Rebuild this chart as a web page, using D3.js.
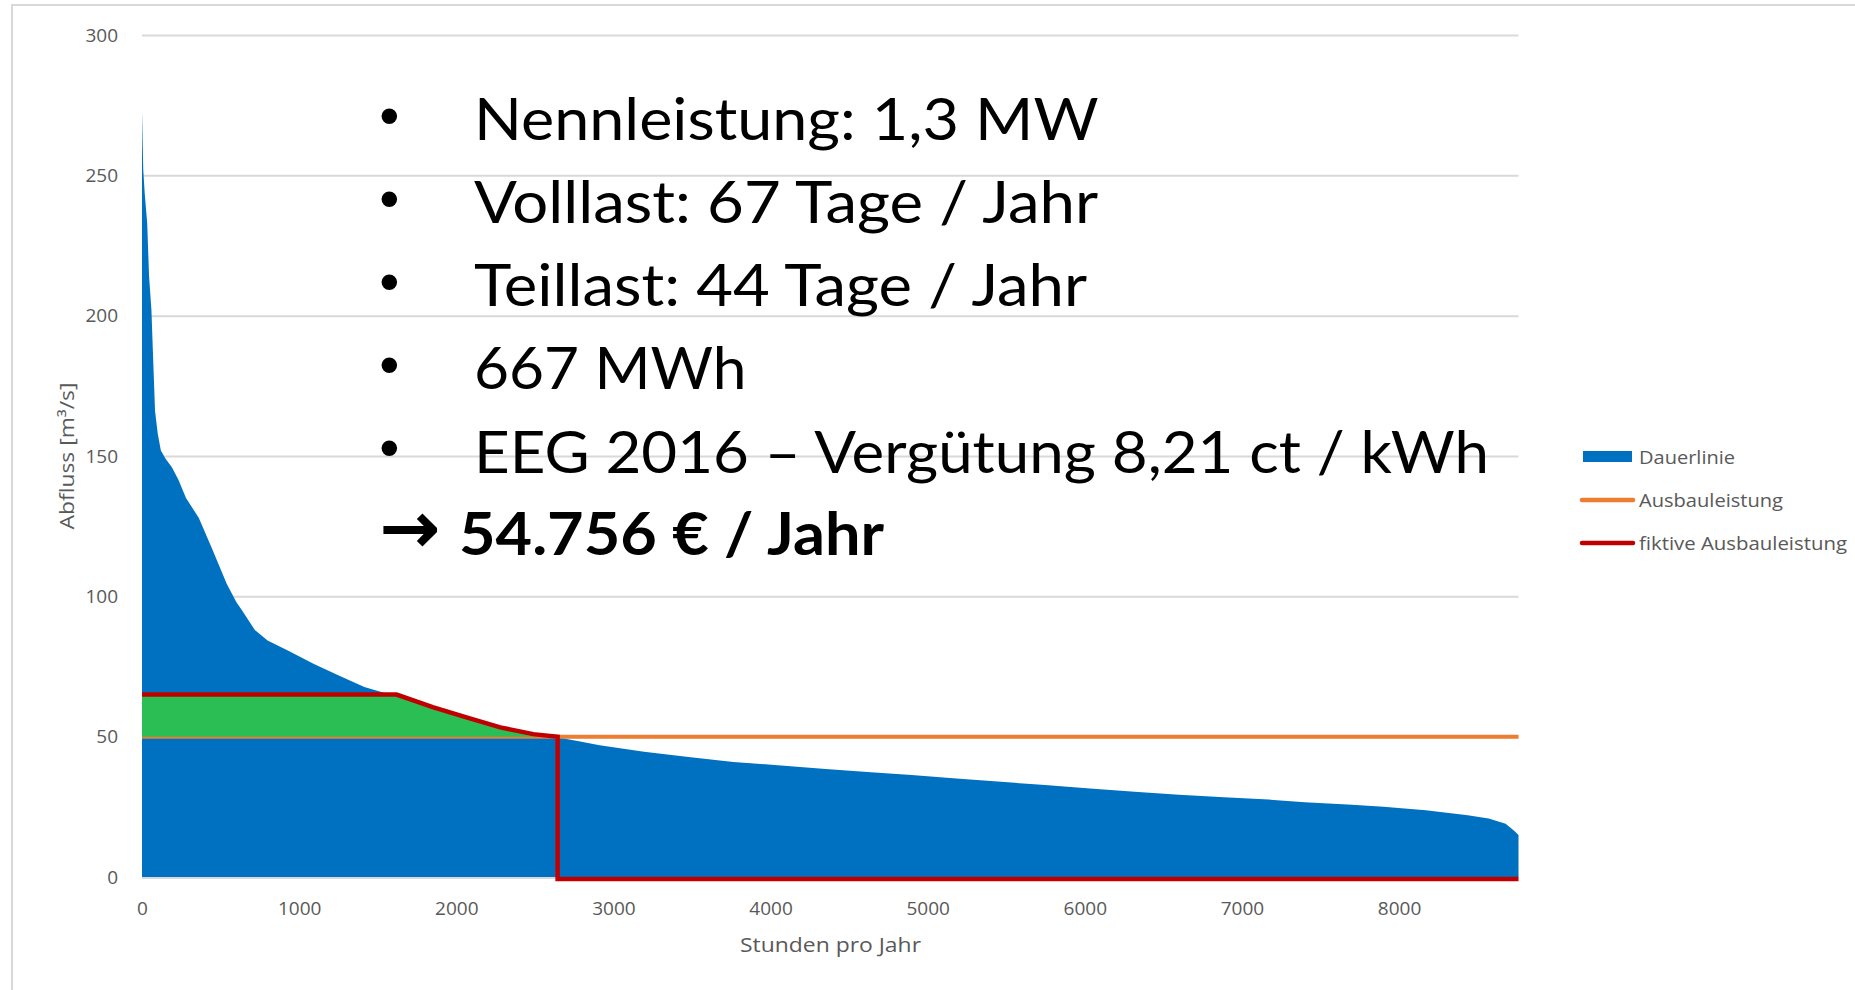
<!DOCTYPE html>
<html><head><meta charset="utf-8">
<script src="https://cdn.jsdelivr.net/npm/d3@7"></script>
<style>body{margin:0;background:#fff;}svg{display:block;}</style>
</head><body>
<svg id="chart" width="1855" height="990"></svg>
<script>
// ---- data ----
const hours = [0,4,8,18,33,45,60,72,83,100,120,150,190,231,280,361,442,539,600,636,718,799,928,1091,1252,1415,1577,1620,1850,2070,2280,2490,2640,2780,2912,3195,3478,3763,4047,4330,4615,4898,5182,5467,5747,6033,6317,6600,6885,7170,7400,7700,7900,8170,8437,8570,8678,8732,8760];
const flow  = [273,262,252,243,233,214,202,183,166,158,152,149,146,141.6,135,128,117.5,104.5,98,95,88,84.3,80.7,76,71.8,67.7,65,64.6,60.2,56.5,53,50.6,49.8,48.4,46.9,44.6,42.8,41,39.8,38.6,37.4,36.3,35.1,33.9,32.8,31.5,30.4,29.3,28.4,27.6,26.6,25.7,25,23.8,22,20.8,19,16.5,15];
const ausbauHours = [0,8760];
const ausbauValue = [50,50];
const fiktivHours = [0,1620,1850,2070,2280,2490,2645,2645,8760];
const fiktivValue = [65,65,60.5,56.8,53.3,50.9,50,0,0];
const xTicks = [0,1000,2000,3000,4000,5000,6000,7000,8000];
const yTicks = [0,50,100,150,200,250,300];
const legendLabels = ["Dauerlinie","Ausbauleistung","fiktive Ausbauleistung"];
const bulletLines = ["Nennleistung: 1,3 MW","Volllast: 67 Tage / Jahr","Teillast: 44 Tage / Jahr","667 MWh","EEG 2016 – Vergütung 8,21 ct / kWh"];
const resultArrow = "→";
const resultText = "54.756 € / Jahr";
const xTitle = "Stunden pro Jahr";
const yTitle = "Abfluss [m³/s]";

// ---- styles ----
const C = {blue:"#0070C0", orange:"#ED7D31", red:"#C00000", green:"#2ABE55", grid:"#D9D9D9", label:"#595959"};
const svg = d3.select("#chart");
const x = d3.scaleLinear().domain([0,8760]).range([142,1518.5]);
const y = d3.scaleLinear().domain([0,300]).range([877,35]);

// outer border
svg.append("path").attr("d","M12,990 V5 H1855").attr("fill","none").attr("stroke","#D9D9D9").attr("stroke-width",2);

// y axis with gridlines
const yAxis = svg.append("g").attr("transform",`translate(${x(0)},0)`)
  .call(d3.axisLeft(y).tickValues(yTicks).tickFormat(d3.format("d")).tickSize(-(x(8760)-x(0))).tickPadding(24));
yAxis.select(".domain").remove();
yAxis.selectAll(".tick line").attr("stroke",C.grid).attr("stroke-width",2);
yAxis.selectAll(".tick text").attr("fill",C.label).style("font-family","Open Sans").style("font-size","19px");

// x axis
const xAxis = svg.append("g").attr("transform",`translate(0,${y(0)})`)
  .call(d3.axisBottom(x).tickValues(xTicks).tickFormat(d3.format("d")).tickSize(0).tickPadding(24.5));
xAxis.select(".domain").remove();
xAxis.selectAll(".tick text").attr("fill",C.label).style("font-family","Open Sans").style("font-size","19px");

const pts = hours.map((h,i)=>({h, v:flow[i]}));
svg.append("path").datum(pts)
  .attr("d", d3.area().x(d=>x(d.h)).y0(y(0)).y1(d=>y(d.v)))
  .attr("fill",C.blue);

// zero axis line on top of area
svg.append("line").attr("x1",x(0)).attr("x2",x(8760)).attr("y1",y(0)+1).attr("y2",y(0)+1)
  .attr("stroke",C.grid).attr("stroke-width",2);

// Ausbauleistung
const aus = ausbauHours.map((h,i)=>({h, v:ausbauValue[i]}));
svg.append("path").datum(aus)
  .attr("d", d3.line().x(d=>x(d.h)).y(d=>y(d.v)))
  .attr("fill","none").attr("stroke",C.orange).attr("stroke-width",4);

// green area between Ausbauleistung and fiktive Ausbauleistung
const fik = fiktivHours.map((h,i)=>({h, v:fiktivValue[i]}));
const greenPts = fik.filter(d=>d.v>=ausbauValue[0]);
svg.append("path").datum(greenPts)
  .attr("d", d3.area().x(d=>x(d.h)).y0(y(ausbauValue[0])).y1(d=>y(d.v)))
  .attr("fill",C.green);

// fiktive Ausbauleistung
svg.append("path").datum(fik)
  .attr("d", d3.line().x(d=>x(d.h)).y(d=>y(d.v)+(d.v===0?2:0)))
  .attr("fill","none").attr("stroke",C.red).attr("stroke-width",4.5).attr("stroke-linejoin","miter");

// axis titles
svg.append("text").attr("x",830.5).attr("y",952).attr("text-anchor","middle")
  .attr("fill",C.label).style("font-family","Open Sans").style("font-size","20px")
  .attr("textLength",181).attr("lengthAdjust","spacingAndGlyphs").text(xTitle);
svg.append("text").attr("transform","translate(66,456) rotate(-90)").attr("text-anchor","middle")
  .attr("dominant-baseline","central")
  .attr("fill",C.label).style("font-family","Open Sans").style("font-size","20px")
  .attr("textLength",147).attr("lengthAdjust","spacingAndGlyphs").text(yTitle);

// legend
const legY = [456.5,500,543];
const legLen = [96,144,208];
const lg = svg.append("g");
lg.append("rect").attr("x",1583).attr("y",legY[0]-5.5).attr("width",49).attr("height",11).attr("fill",C.blue);
lg.append("line").attr("x1",1582).attr("x2",1633).attr("y1",legY[1]).attr("y2",legY[1])
  .attr("stroke",C.orange).attr("stroke-width",4.5).attr("stroke-linecap","round");
lg.append("line").attr("x1",1582).attr("x2",1633).attr("y1",legY[2]).attr("y2",legY[2])
  .attr("stroke",C.red).attr("stroke-width",4.5).attr("stroke-linecap","round");
legendLabels.forEach((t,i)=>{
  lg.append("text").attr("x",1639).attr("y",legY[i]).attr("dominant-baseline","central")
    .attr("fill",C.label).style("font-family","Open Sans").style("font-size","18px")
    .attr("textLength",legLen[i]).attr("lengthAdjust","spacingAndGlyphs").text(t);
});

// text overlay
const ctx = document.createElement("canvas").getContext("2d");
function fitGlyph(g, txt, family, weight, targetW, cx, cy){
  ctx.font = `${weight} 100px "${family}"`;
  const m = ctx.measureText(txt);
  const L = m.actualBoundingBoxLeft, R = m.actualBoundingBoxRight;
  const A = m.actualBoundingBoxAscent, D = m.actualBoundingBoxDescent;
  const k = targetW/(L+R);
  return g.append("text").attr("x", cx - (R-L)/2*k).attr("y", cy + (A-D)/2*k)
    .style("font-family",`"${family}"`).style("font-weight",weight)
    .style("font-size",(100*k)+"px").attr("fill","#000").text(txt);
}
const tg = svg.append("g");
const lineStep = 83.15;
const lineLens = [624.5,624,613,272.5,1015];
bulletLines.forEach((t,i)=>{
  const base = 140 + i*lineStep;
  fitGlyph(tg, "•", "Liberation Sans", "normal", 16.7, 389.3, base-25);
  tg.append("text").attr("x",474).attr("y",base)
    .style("font-family","Lato").style("font-size","59px").attr("fill","#000")
    .attr("textLength",lineLens[i]).attr("lengthAdjust","spacingAndGlyphs").text(t);
});
const base6 = 140 + 5*lineStep - 0.5;
fitGlyph(tg, resultArrow, "DejaVu Sans", "normal", 52, 410, base6-25)
  .attr("stroke","#000").attr("stroke-width",2.2).attr("stroke-linejoin","miter");
tg.append("text").attr("x",459).attr("y",base6)
  .style("font-family","Lato").style("font-weight","bold").style("font-size","60px").attr("fill","#000")
  .attr("textLength",425).attr("lengthAdjust","spacingAndGlyphs").text(resultText);
</script>
</body></html>
